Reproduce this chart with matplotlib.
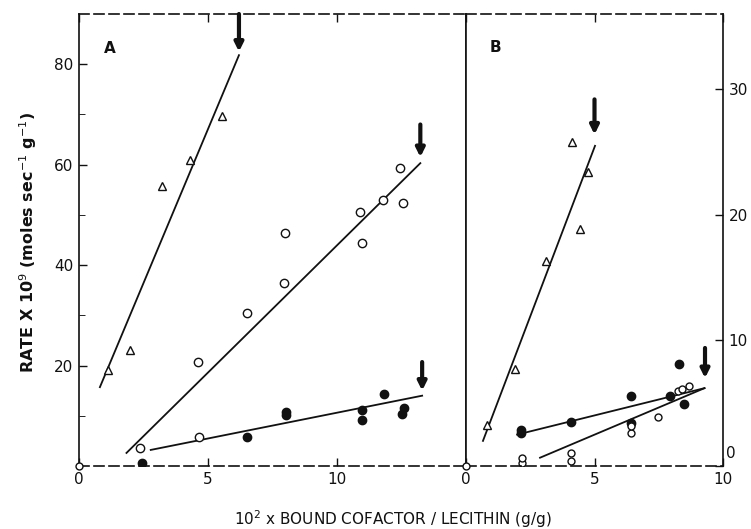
import matplotlib
matplotlib.use("Agg")
import matplotlib.pyplot as plt
import numpy as np

# ---- Panel A data ----
a_tri_x = [1.12, 1.97, 3.2, 4.29, 5.54]
a_tri_y = [19.2, 23.0, 55.8, 61.0, 69.7]
a_tri_fit_x = [0.81, 6.2]
a_tri_fit_y = [15.7, 81.8]

a_open_x = [2.38, 4.61, 4.67, 6.5, 7.95, 7.98, 10.88, 10.98, 11.8, 12.46, 12.56]
a_open_y = [3.6, 20.7, 5.8, 30.4, 36.4, 46.3, 50.6, 44.4, 53.0, 59.3, 52.3]
a_open_fit_x = [1.84, 13.23]
a_open_fit_y = [2.6, 60.3]

a_fill_x = [2.46, 6.5, 8.02, 8.02, 10.98, 10.98, 11.84, 12.52, 12.61]
a_fill_y = [0.5, 5.8, 10.8, 10.2, 11.1, 9.2, 14.4, 10.4, 11.6]
a_fill_fit_x = [2.78, 13.3]
a_fill_fit_y = [3.2, 14.0]

a_arrow_x = [6.2, 13.23, 13.3]
a_arrow_top = [90.0, 68.0, 20.7]
a_arrow_tip = [82.5, 61.5, 15.0]

# ---- Panel B data ----
b_tri_x = [0.82, 1.89, 3.1, 4.11, 4.44, 4.76]
b_tri_y = [3.3, 7.7, 16.3, 25.8, 18.9, 23.4]
b_tri_fit_x = [0.66, 5.02]
b_tri_fit_y = [2.0, 25.5]

b_fill_x = [2.15, 2.15, 4.1, 6.42, 6.42, 7.95, 8.3, 8.48]
b_fill_y = [2.6, 2.9, 3.5, 5.6, 3.4, 5.6, 8.1, 4.9]
b_fill_fit_x = [1.99, 9.28]
b_fill_fit_y = [2.5, 6.2]

b_open_x = [2.19, 2.19, 4.1, 4.1, 6.42, 6.42, 7.48, 8.24, 8.42, 8.66]
b_open_y = [0.25, 0.6, 0.4, 1.0, 2.6, 3.2, 3.9, 5.95, 6.1, 6.35]
b_open_fit_x = [2.88, 9.28]
b_open_fit_y = [0.66, 6.2]

b_arrow_x = [5.0, 9.3]
b_arrow_top = [29.2, 9.4]
b_arrow_tip = [26.4, 7.0]

a_xticks = [0, 5, 10]
a_yticks = [20, 40, 60, 80]
b_xticks = [0, 5, 10]
b_yticks = [0, 10, 20, 30]

plt.rcParams['font.family'] = ['DejaVu Sans']

fig = plt.figure(figsize=(7.51, 5.29), dpi=100)
axA = fig.add_axes([79/751, 1-466/529, (466-79)/751, (466-14)/529])
axB = fig.add_axes([466/751, 1-466/529, (723-466)/751, (466-14)/529])

lc = '#111111'

def arrow(ax, x, top, tip):
    ax.annotate('', xy=(x, tip), xytext=(x, top),
                arrowprops=dict(arrowstyle='-|>,head_width=0.25,head_length=0.5',
                                lw=3, color=lc, shrinkA=0, shrinkB=0),
                annotation_clip=False)

# Panel A
axA.plot(a_tri_fit_x, a_tri_fit_y, color=lc, lw=1.3)
axA.plot(a_open_fit_x, a_open_fit_y, color=lc, lw=1.3)
axA.plot(a_fill_fit_x, a_fill_fit_y, color=lc, lw=1.3)
axA.plot(a_tri_x, a_tri_y, linestyle='none', marker='^', ms=6, mfc='white', mec=lc, mew=1.0)
axA.plot(a_open_x, a_open_y, linestyle='none', marker='o', ms=6, mfc='white', mec=lc, mew=1.0)
axA.plot(a_fill_x, a_fill_y, linestyle='none', marker='o', ms=6, mfc=lc, mec=lc)
for x, t, p in zip(a_arrow_x, a_arrow_top, a_arrow_tip):
    arrow(axA, x, t, p)
axA.set_xlim(0, 15)
axA.set_ylim(0, 90)
axA.set_xticks(a_xticks)
axA.set_yticks(a_yticks)
axA.set_yticks([10, 30, 50, 70], minor=True)
axA.tick_params(direction='in', top=True, right=False, labelsize=11, length=6, width=1)
axA.tick_params(which='minor', direction='in', length=4, left=True)
axA.set_xticklabels(['0', '5', '10'])
axA.text(0.95, 82.3, 'A', fontsize=11, fontweight='bold', color=lc)
axA.plot([0], [0], marker='o', ms=5, mfc='white', mec=lc, clip_on=False, zorder=5)

# Panel B
axB.plot(b_tri_fit_x, b_tri_fit_y, color=lc, lw=1.3)
axB.plot(b_fill_fit_x, b_fill_fit_y, color=lc, lw=1.3)
axB.plot(b_open_fit_x, b_open_fit_y, color=lc, lw=1.3)
axB.plot(b_tri_x, b_tri_y, linestyle='none', marker='^', ms=6, mfc='white', mec=lc, mew=1.0)
axB.plot(b_fill_x, b_fill_y, linestyle='none', marker='o', ms=6, mfc=lc, mec=lc)
axB.plot(b_open_x, b_open_y, linestyle='none', marker='o', ms=5, mfc='white', mec=lc, mew=1.0)
for x, t, p in zip(b_arrow_x, b_arrow_top, b_arrow_tip):
    arrow(axB, x, t, p)
axB.set_xlim(0, 10)
axB.set_ylim(0, 36)
axB.set_xticks(b_xticks)
axB.set_xticklabels(['0', '5', '10'])
axB.yaxis.tick_right()
axB.set_yticks(b_yticks)
axB.set_yticklabels(['', '10', '20', '30'])
axB.text(10.1, 0.6, '0', fontsize=11, color=lc, clip_on=False)
axB.tick_params(direction='in', top=True, left=False, labelsize=11, length=6, width=1)
axB.text(0.9, 33.0, 'B', fontsize=11, fontweight='bold', color=lc)
axB.plot([0], [0], marker='o', ms=5, mfc='white', mec=lc, clip_on=False, zorder=5)

for ax in (axA, axB):
    for s in ax.spines.values():
        s.set_color(lc)
        s.set_linewidth(1.2)
    ax.spines['top'].set_linestyle((0, (6, 3)))
    ax.spines['bottom'].set_linestyle((0, (6, 3)))
    ax.tick_params(colors=lc, pad=4)

fig.text(28/751, 1-243/529, 'RATE X 10$^{9}$ (moles sec$^{-1}$ g$^{-1}$)',
         rotation=90, ha='center', va='center', fontsize=11.5, fontweight='bold', color=lc)
fig.text(393/751, 1-519/529, '10$^{2}$ x BOUND COFACTOR / LECITHIN (g/g)',
         ha='center', va='center', fontsize=11, color=lc)

fig.savefig('out.png', dpi=100)
